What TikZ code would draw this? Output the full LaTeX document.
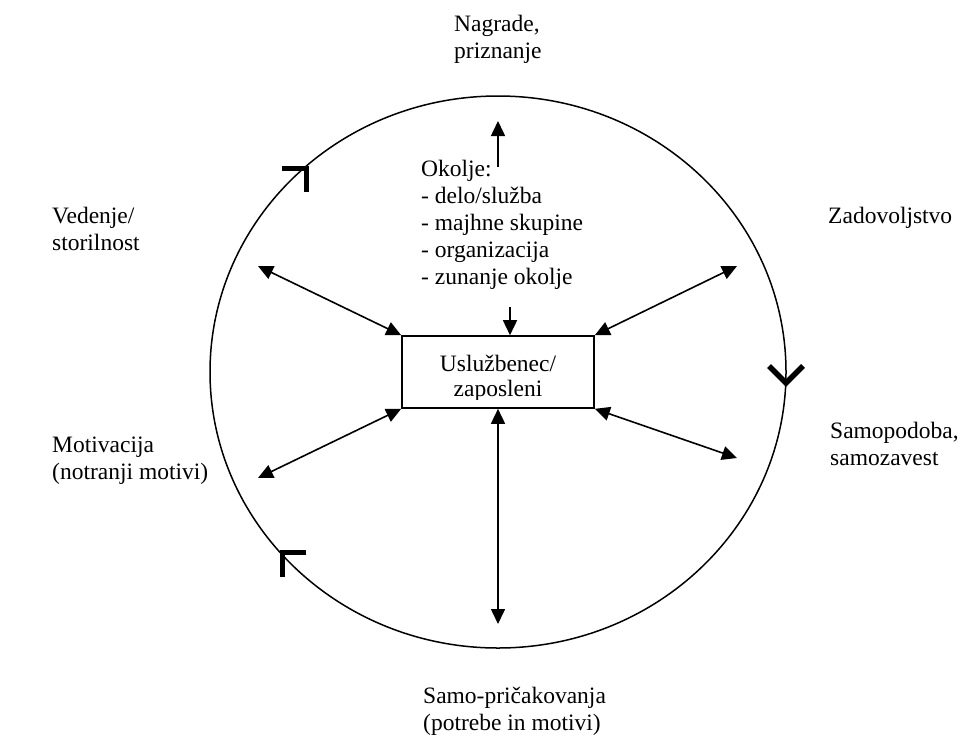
\documentclass[tikz,border=0pt]{standalone}
\usepackage{fontspec}
\setmainfont{Liberation Serif}
\usetikzlibrary{arrows.meta}
\begin{document}
\begin{tikzpicture}[x=1pt,y=-1pt,
  lbl/.style={inner sep=0pt, align=left, font=\fontsize{23.5}{27}\selectfont},
  conn/.style={line width=1.6pt, -{Triangle[length=15pt,width=14pt]}},
  biconn/.style={line width=1.6pt, {Triangle[length=15pt,width=14pt]}-{Triangle[length=15pt,width=14pt]}},
  chevron/.style={line width=5.5pt, line cap=butt, line join=miter}]
\useasboundingbox (0,0) rectangle (960,736);

% the cycle
\draw[line width=1.5pt] (498,372) ellipse [x radius=288, y radius=276];
\draw[chevron] (282,168.3) -- (306.3,168.3) -- (306.3,192);
\draw[chevron] (769,366) -- (786,383) -- (803,366);
\draw[chevron] (306.3,552.5) -- (282.3,552.5) -- (282.3,577);

% employee box (text is clipped by the box, last line baseline given)
\node[draw, line width=1.6pt, minimum width=192pt, minimum height=72pt, inner sep=0pt] (emp) at (498,372) {};
\begin{scope}
  \clip (402,336) rectangle (594,399.5);
  \node[lbl, align=center, anchor=base, font=\fontsize{23.5}{25}\selectfont] (empt) at (498,396.5) {Uslužbenec/\\zaposleni};
\end{scope}

% surrounding labels (anchor = baseline of the last line)
\node[lbl, anchor=base west] (nag) at (454,58) {Nagrade,\\priznanje};
\node[lbl, anchor=base west] (oko) at (421,284) {Okolje:\\- delo/služba\\- majhne skupine\\- organizacija\\- zunanje okolje};
\node[lbl, anchor=base west] (ved) at (52,250) {Vedenje/\\storilnost};
\node[lbl, anchor=base west] (zad) at (828,223) {Zadovoljstvo};
\node[lbl, anchor=base west] (mot) at (52,479) {Motivacija\\(notranji motivi)};
\node[lbl, anchor=base west] (sam) at (830,465) {Samopodoba,\\samozavest};
\node[lbl, anchor=base west] (pri) at (423,730) {Samo-pričakovanja\\(potrebe in motivi)};

% free ends of the connectors
\coordinate (upT) at (498,121);
\coordinate (upB) at (498,167);
\coordinate (dnT) at (510,307);
\coordinate (ul) at (258,266);
\coordinate (ur) at (737,266);
\coordinate (ll) at (258,478);
\coordinate (lr) at (737,458);
\coordinate (bt) at (498,624);

% connectors
\draw[conn] (upB) -- (upT);
\draw[conn] (dnT) -- (emp.north -| dnT);
\draw[biconn] (ul) -- (emp.north west);
\draw[biconn] (ur) -- (emp.north east);
\draw[biconn] (ll) -- (emp.south west);
\draw[biconn] (lr) -- (emp.south east);
\draw[biconn] (bt) -- (emp.south);
\end{tikzpicture}
\end{document}
